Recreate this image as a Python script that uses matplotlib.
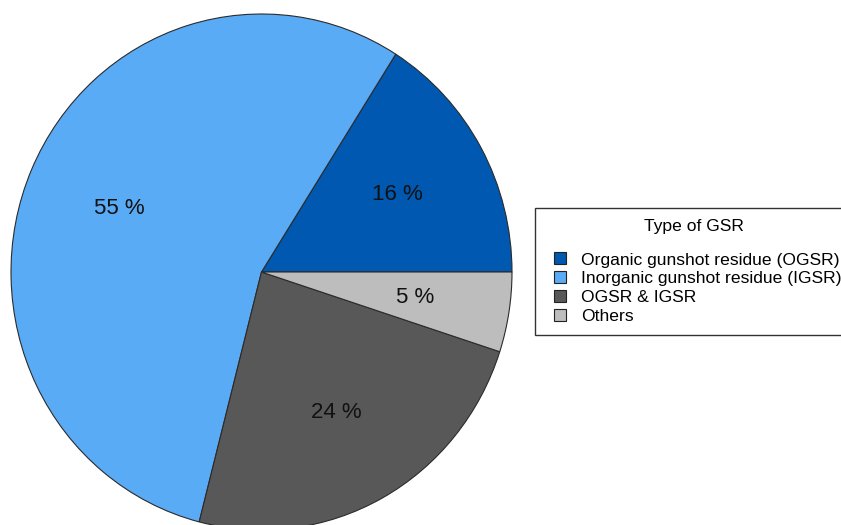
import matplotlib
matplotlib.use('Agg')
import matplotlib.pyplot as plt
from matplotlib.lines import Line2D

plt.rcParams['font.family'] = ['Liberation Sans', 'DejaVu Sans']

# GSR types and their share (%)
gsr_types = ['Organic gunshot residue (OGSR)', 'Inorganic gunshot residue (IGSR)',
             'OGSR & IGSR', 'Others']
shares = [16, 55, 24, 5]
colors = ['#0058b0', '#5aabf6', '#585858', '#bdbdbd']

fig = plt.figure(figsize=(8.41, 5.25), dpi=100)
W, H = 841, 525

# pie is slightly stretched vertically in the original
cx, cy, rx, ry = 261.5, 272, 250.5, 258
ax = fig.add_axes([(cx - rx) / W, (H - cy - ry) / H, 2 * rx / W, 2 * ry / H])

wedges, texts, autotexts = ax.pie(
    shares, colors=colors, startangle=0, counterclock=True,
    autopct=lambda p: '%.0f %%' % p, pctdistance=0.62,
    wedgeprops=dict(edgecolor='#2b2b2b', linewidth=0.8),
    textprops=dict(fontsize=16, color='#111111'))
ax.set_xlim(-1, 1)
ax.set_ylim(-1, 1)
ax.set_aspect('auto')
ax.axis('off')

# legend, runs up to the right edge like the original
# (blank second title line gives the gap under the title)
handles = [Line2D([], [], linestyle='none', marker='s', markersize=8,
                  markerfacecolor=c, markeredgecolor='#222222', markeredgewidth=0.8)
           for c in colors]
leg = fig.legend(handles, gsr_types, title='Type of GSR\n ',
                 loc='upper left', bbox_to_anchor=(535 / W, 1 - 208 / H),
                 borderaxespad=0, fontsize=12.6, title_fontsize=12.6,
                 handlelength=1.5, handletextpad=0.49, borderpad=0.65,
                 labelspacing=0.2, fancybox=False, framealpha=1,
                 edgecolor='#333333')
leg.get_title().set_linespacing(0.95)
leg.get_frame().set_linewidth(1.0)

fig.savefig('out.png', dpi=100)
